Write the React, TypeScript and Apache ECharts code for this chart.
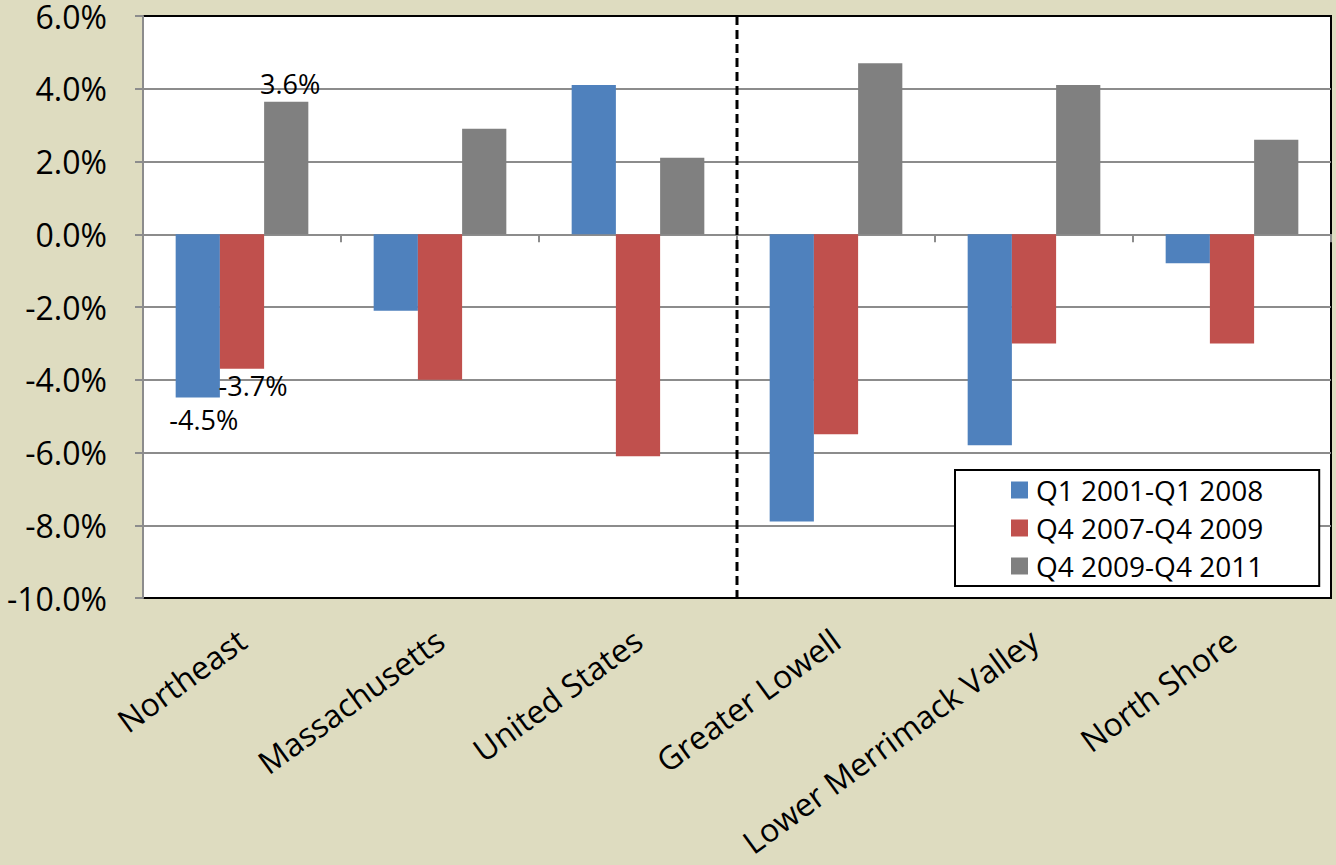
import React, { useEffect, useRef } from "react";
import * as echarts from "echarts";

const categories = ["Northeast", "Massachusetts", "United States", "Greater Lowell", "Lower Merrimack Valley", "North Shore"];
const seriesNames = ["Q1 2001-Q1 2008", "Q4 2007-Q4 2009", "Q4 2009-Q4 2011"];
const q1_2001_q1_2008 = [-4.49, -2.1, 4.1, -7.9, -5.8, -0.8];
const q4_2007_q4_2009 = [-3.7, -4.0, -6.1, -5.5, -3.0, -3.0];
const q4_2009_q4_2011 = [3.64, 2.9, 2.1, 4.7, 4.1, 2.6];
const colors = ["#4F81BD", "#C0504D", "#808080"];
const yMin = -10;
const yMax = 6;
const yInterval = 2;
const dividerX = 3;

const FONT = "'Open Sans', 'DejaVu Sans', sans-serif";
const fmt = (v: number) => v.toFixed(1) + "%";

export default function App() {
  const ref = useRef<HTMLDivElement>(null);
  useEffect(() => {
    if (!ref.current) return;
    const chart = echarts.init(ref.current, null, { renderer: "svg" });
    const labelBase = { fontFamily: FONT, fontSize: 27, color: "#000" };
    const mkData = (vals: number[], labelFor0: any) =>
      vals.map((v, i) =>
        i === 0 ? { value: v, label: { show: true, position: "outside", formatter: () => fmt(v), ...labelBase, ...labelFor0 } } : v
      );
    chart.setOption({
      animation: false,
      backgroundColor: "#DEDCC0",
      textStyle: { fontFamily: FONT },
      grid: {
        left: 143,
        top: 14,
        right: 5,
        bottom: 267,
        show: true,
        backgroundColor: "#fff",
        borderColor: "#000",
        borderWidth: 2,
      },
      legend: {
        orient: "vertical",
        left: 955,
        top: 470,
        data: seriesNames,
        backgroundColor: "#fff",
        borderColor: "#000",
        borderWidth: 2,
        padding: [5, 56, 5, 56],
        itemWidth: 17,
        itemHeight: 17,
        itemGap: 8,
        icon: "rect",
        textStyle: { fontFamily: FONT, fontSize: 28, color: "#000", lineHeight: 30, padding: [0, 0, 0, 3] },
      },
      xAxis: [
        {
          type: "category",
          data: categories,
          position: "bottom",
          axisLine: { show: false, onZero: false },
          axisTick: { show: false },
          axisLabel: { rotate: 36, fontFamily: FONT, fontSize: 32, color: "#000", margin: 38, interval: 0 },
          splitLine: { show: false },
        },
        {
          type: "category",
          data: categories,
          position: "top",
          axisLine: { show: true, onZero: true, lineStyle: { color: "#8c8c8c", width: 2 } },
          axisTick: { show: true, inside: true, length: 8, lineStyle: { color: "#8c8c8c", width: 2 } },
          axisLabel: { show: false },
          splitLine: { show: false },
        },
        {
          type: "value",
          min: 0,
          max: categories.length,
          show: false,
        },
      ],
      yAxis: {
        type: "value",
        min: yMin,
        max: yMax,
        interval: yInterval,
        axisLine: { show: true, lineStyle: { color: "#8c8c8c", width: 2 } },
        axisTick: { show: true, length: 8, lineStyle: { color: "#8c8c8c", width: 2 } },
        axisLabel: { formatter: fmt, fontFamily: FONT, fontSize: 32, lineHeight: 24, color: "#000", margin: 36 },
        splitLine: { show: true, showMaxLine: false, showMinLine: false, lineStyle: { color: "#8c8c8c", width: 2 } },
      },
      series: [
        {
          name: seriesNames[0],
          type: "bar",
          xAxisIndex: 0,
          barGap: "0%",
          barCategoryGap: "33%",
          itemStyle: { color: colors[0] },
          data: mkData(q1_2001_q1_2008, { offset: [6, 3] }),
        },
        {
          name: seriesNames[1],
          type: "bar",
          xAxisIndex: 0,
          barGap: "0%",
          barCategoryGap: "33%",
          itemStyle: { color: colors[1] },
          data: mkData(q4_2007_q4_2009, { offset: [11, -2] }),
        },
        {
          name: seriesNames[2],
          type: "bar",
          xAxisIndex: 0,
          barGap: "0%",
          barCategoryGap: "33%",
          itemStyle: { color: colors[2] },
          data: mkData(q4_2009_q4_2011, { offset: [4, 0] }),
        },
        {
          name: "divider",
          type: "line",
          xAxisIndex: 2,
          symbol: "none",
          silent: true,
          z: 5,
          lineStyle: { color: "#000", width: 3, type: [9, 5] },
          data: [
            [dividerX, yMax],
            [dividerX, yMin],
          ],
        },
      ],
    });
    return () => chart.dispose();
  }, []);
  return <div ref={ref} style={{ position: "absolute", left: 0, top: 0, width: 1336, height: 865 }} />;
}
